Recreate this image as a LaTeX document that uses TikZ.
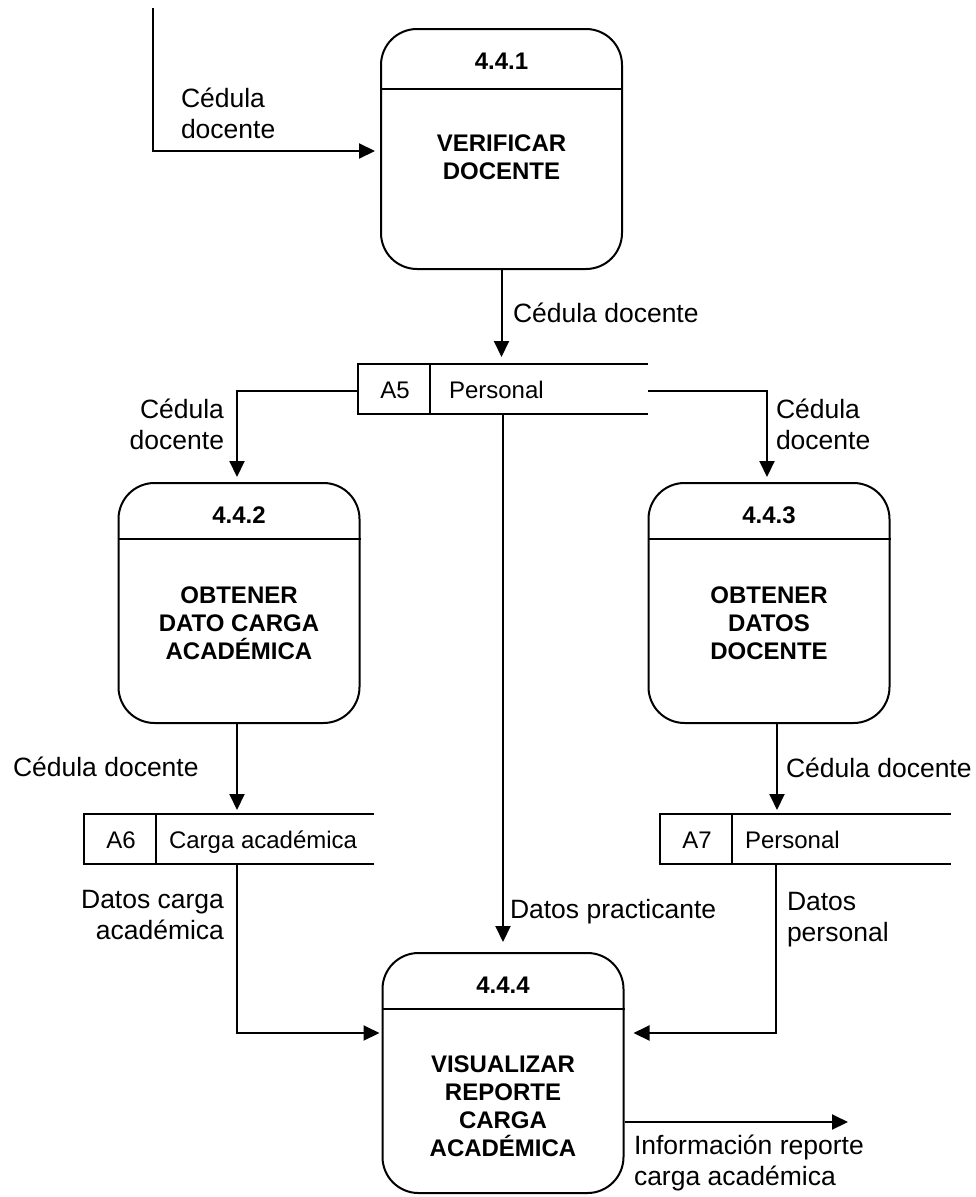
\documentclass[tikz,border=0pt]{standalone}
\usepackage{fontspec}
\setmainfont{Liberation Sans}
\usetikzlibrary{arrows.meta,calc}
\begin{document}
\begin{tikzpicture}[x=1pt,y=-1pt,
  every path/.style={line width=2pt},
  proc/.style={draw,rounded corners=36pt,inner sep=0pt,minimum width=241pt,minimum height=240pt},
  pnum/.style={font=\fontsize{24}{28}\selectfont\bfseries,inner sep=0pt},
  ptitle/.style={font=\fontsize{24}{28}\selectfont\bfseries,align=center,inner sep=0pt},
  store/.style={inner sep=0pt,minimum width=288pt,minimum height=48pt},
  stext/.style={font=\fontsize{24}{28}\selectfont,inner sep=0pt},
  lbl/.style={font=\fontsize{26.5}{31}\selectfont,inner sep=0pt},
  arr/.style={-{Triangle[length=16pt,width=15pt]}},
]
\useasboundingbox (0,0) rectangle (975,1197);

% processes
\node[proc] (p1) at (501.5,149) {};
\node[proc] (p2) at (239,603) {};
\node[proc] (p3) at (769,603) {};
\node[proc] (p4) at (503,1073) {};

\draw (p1.west |- 0,89) -- (p1.east |- 0,89);
\draw (p2.west |- 0,539) -- (p2.east |- 0,539);
\draw (p3.west |- 0,539) -- (p3.east |- 0,539);
\draw (p4.west |- 0,1009) -- (p4.east |- 0,1009);

\node[pnum] (p1n) at (501.5,61) {4.4.1};
\node[pnum] (p2n) at (239,515) {4.4.2};
\node[pnum] (p3n) at (769,515) {4.4.3};
\node[pnum] (p4n) at (503,985) {4.4.4};

\node[ptitle] (p1t) at (501.5,157) {VERIFICAR\\DOCENTE};
\node[ptitle] (p2t) at (239,623.5) {OBTENER\\DATO CARGA\\ACADÉMICA};
\node[ptitle] (p3t) at (769,623.5) {OBTENER\\DATOS\\DOCENTE};
\node[ptitle] (p4t) at (503,1106.5) {VISUALIZAR\\REPORTE\\CARGA\\ACADÉMICA};

% data stores
\node[store] (s5) at (503,389) {};
\node[store] (s6) at (229,839) {};
\node[store,minimum width=289pt] (s7) at (805.5,839) {};
\foreach \s in {s5,s6,s7}{
  \draw (\s.north east) -- (\s.north west) -- (\s.south west) -- (\s.south east);
  \draw ([xshift=72pt]\s.north west) -- ([xshift=72pt]\s.south west);
}
\node[stext,anchor=base] (s5id) at (395,398) {A5};
\node[stext,anchor=base west] (s5n) at (448,398) {Personal};
\node[stext,anchor=base] (s6id) at (121,848) {A6};
\node[stext,anchor=base west] (s6n) at (168,848) {Carga académica};
\node[stext,anchor=base] (s7id) at (697,848) {A7};
\node[stext,anchor=base west] (s7n) at (744,848) {Personal};

% connectors
\coordinate (in) at (153,8);
\coordinate (out) at (848,1122);
\draw[arr,shorten >=5pt] (in) |- ([yshift=-2pt]p1.west);
\draw[arr,shorten >=7pt] (p1.south) -- (p1.south |- s5.north);
\draw[arr,shorten >=5pt] ([yshift=-2pt]s5.west) -| ([xshift=-2pt]p2.north);
\draw[arr,shorten >=5pt] ([yshift=-2pt]s5.east) -| ([xshift=-2pt]p3.north);
\draw[arr,shorten >=10pt] (s5.south) -- (p4.north);
\draw[arr,shorten >=4pt] ([xshift=-2pt]p2.south) -- ([xshift=-2pt]p2.south |- s6.north);
\draw[arr,shorten >=4pt] ([xshift=8pt]p3.south) -- ([xshift=8pt]p3.south |- s7.north);
\draw[arr,shorten >=2pt] ([xshift=-2pt]p2.south |- s6.south) |- ([yshift=40pt]p4.west);
\draw[arr,shorten >=9pt] ([xshift=7pt]p3.south |- s7.south) |- ([yshift=40pt]p4.east);
\draw[arr] (p4.east |- out) -- (out);

% labels
\node[lbl,align=left,anchor=west] (l1) at (180,113) {Cédula\\docente};
\node[lbl,anchor=west] (l2) at (512,313) {Cédula docente};
\node[lbl,align=right,anchor=east] (l3) at (225,424) {Cédula\\docente};
\node[lbl,align=left,anchor=west] (l4) at (775,424) {Cédula\\docente};
\node[lbl,anchor=west] (l5) at (12,767) {Cédula docente};
\node[lbl,anchor=west] (l6) at (785,768) {Cédula docente};
\node[lbl,align=right,anchor=east] (l7) at (225,915) {Datos carga\\académica};
\node[lbl,anchor=west] (l8) at (509,912) {Datos practicante};
\node[lbl,align=left,anchor=west] (l9) at (786,920) {Datos\\personal};
\node[lbl,align=left,anchor=west] (l10) at (633,1163) {Información reporte\\carga académica};
\end{tikzpicture}
\end{document}
